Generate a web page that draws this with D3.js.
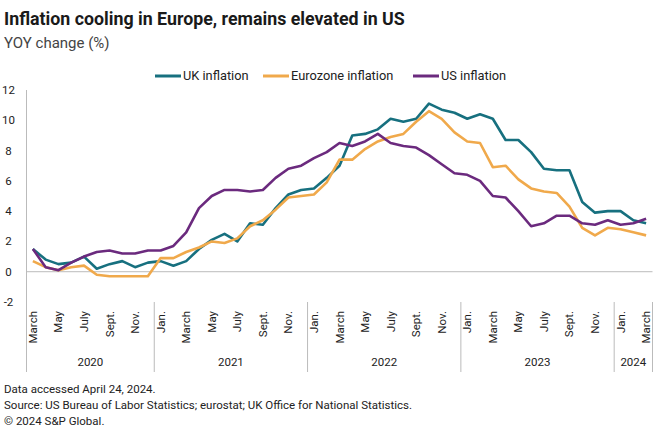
<!DOCTYPE html>
<html>
<head>
<meta charset="utf-8">
<script src="https://cdn.jsdelivr.net/npm/d3@7"></script>
<style>
  body { margin: 0; background: #fff; }
  svg { font-family: Roboto, "Liberation Sans", sans-serif; display: block; }
</style>
</head>
<body>
<div id="chart"></div>
<script>
// monthly YOY % change, March 2020 .. March 2024
const monthNames = ["Jan.", "Feb.", "March", "April", "May", "June", "July", "Aug.", "Sept.", "Oct.", "Nov.", "Dec."];
const years = [2020, 2021, 2022, 2023, 2024];

const ukInflation = [
  1.5, 0.8, 0.5, 0.6, 1.0, 0.2, 0.5, 0.7, 0.3, 0.6,
  0.7, 0.4, 0.7, 1.5, 2.1, 2.5, 2.0, 3.2, 3.1, 4.2, 5.1, 5.4,
  5.5, 6.2, 7.0, 9.0, 9.1, 9.4, 10.1, 9.9, 10.1, 11.1, 10.7, 10.5,
  10.1, 10.4, 10.1, 8.7, 8.7, 7.9, 6.8, 6.7, 6.7, 4.6, 3.9, 4.0,
  4.0, 3.4, 3.2
];
const euroInflation = [
  0.7, 0.3, 0.1, 0.3, 0.4, -0.2, -0.3, -0.3, -0.3, -0.3,
  0.9, 0.9, 1.3, 1.6, 2.0, 1.9, 2.2, 3.0, 3.4, 4.1, 4.9, 5.0,
  5.1, 5.9, 7.4, 7.4, 8.1, 8.6, 8.9, 9.1, 9.9, 10.6, 10.1, 9.2,
  8.6, 8.5, 6.9, 7.0, 6.1, 5.5, 5.3, 5.2, 4.3, 2.9, 2.4, 2.9,
  2.8, 2.6, 2.4
];
const usInflation = [
  1.5, 0.3, 0.1, 0.6, 1.0, 1.3, 1.4, 1.2, 1.2, 1.4,
  1.4, 1.7, 2.6, 4.2, 5.0, 5.4, 5.4, 5.3, 5.4, 6.2, 6.8, 7.0,
  7.5, 7.9, 8.5, 8.3, 8.6, 9.1, 8.5, 8.3, 8.2, 7.7, 7.1, 6.5,
  6.4, 6.0, 5.0, 4.9, 4.0, 3.0, 3.2, 3.7, 3.7, 3.2, 3.1, 3.4,
  3.1, 3.2, 3.5
];
const yTicks = [-2, 0, 2, 4, 6, 8, 10, 12];

const series = [
  { name: "UK inflation", values: ukInflation, color: "#17707f" },
  { name: "Eurozone inflation", values: euroInflation, color: "#f0a94b" },
  { name: "US inflation", values: usInflation, color: "#6b2a7e" }
];

// build month list: March 2020 .. March 2024
const months = [];
for (let i = 0; i < ukInflation.length; i++) {
  const m = (2 + i) % 12;
  const yr = 2020 + Math.floor((2 + i) / 12);
  months.push({ key: i, month: m, year: yr, label: monthNames[m] });
}

const width = 660, height = 440;
const plotLeft = 26.5, plotRight = 652.5, plotTop = 90, plotBottom = 302;

const svg = d3.select("#chart").append("svg")
  .attr("width", width)
  .attr("height", height);

const x = d3.scaleBand().domain(months.map(d => d.key)).range([plotLeft, plotRight]).padding(0);
const cx = k => x(k) + x.bandwidth() / 2;
const y = d3.scaleLinear().domain([-2, 12]).range([plotBottom, plotTop]);

// title
svg.append("text").attr("x", 4).attr("y", 25)
  .style("font-size", "17.8px").style("font-weight", "bold").attr("fill", "#1a1a1a")
  .text("Inflation cooling in Europe, remains elevated in US");
svg.append("text").attr("x", 4).attr("y", 48)
  .style("font-size", "15px").attr("fill", "#444")
  .text("YOY change (%)");

// legend
const legendX = [155, 263, 413];
series.forEach((s, i) => {
  const g = svg.append("g").attr("transform", `translate(${legendX[i]},76)`);
  g.append("line").attr("x1", 0).attr("x2", 26).attr("stroke", s.color).attr("stroke-width", 3);
  g.append("text").attr("x", 28).attr("dy", "0.35em")
    .style("font-size", "12.8px").attr("fill", "#222").text(s.name);
});

// y labels
svg.append("g").selectAll("text").data(yTicks).join("text")
  .attr("x", 8.5).attr("y", d => y(d)).attr("dy", "0.35em")
  .attr("text-anchor", "middle").style("font-size", "11.5px").attr("fill", "#222")
  .text(d => d);

// zero line
svg.append("line").attr("x1", plotLeft).attr("x2", plotRight)
  .attr("y1", y(0)).attr("y2", y(0)).attr("stroke", "#bbb").attr("stroke-width", 1);

// y axis line
svg.append("line").attr("x1", plotLeft).attr("x2", plotLeft)
  .attr("y1", plotTop).attr("y2", 372).attr("stroke", "#bbb").attr("stroke-width", 1);

// year separators
const yearStart = years.map(yr => months.findIndex(d => d.year === yr));
yearStart.slice(1).concat([months.length]).forEach(idx => {
  const xx = idx < months.length ? x(idx) : plotRight;
  svg.append("line").attr("x1", xx).attr("x2", xx)
    .attr("y1", plotBottom).attr("y2", 372).attr("stroke", "#bbb").attr("stroke-width", 1);
});

// month labels (every other month)
svg.append("g").selectAll("text")
  .data(months.filter(d => d.month % 2 === 0))
  .join("text")
  .attr("transform", d => `translate(${cx(d.key)},311) rotate(-90)`)
  .attr("text-anchor", "end").attr("dy", "0.35em")
  .style("font-size", "11.5px").attr("fill", "#222")
  .text(d => d.label);

// year labels
years.forEach((yr, i) => {
  const a = x(yearStart[i]);
  const b = i + 1 < years.length ? x(yearStart[i + 1]) : plotRight;
  svg.append("text").attr("x", (a + b) / 2).attr("y", 366)
    .attr("text-anchor", "middle").style("font-size", "11.5px").attr("fill", "#222")
    .text(yr);
});

// lines
const line = d3.line().x((d, i) => cx(i)).y(d => y(d));
series.forEach(s => {
  svg.append("path").datum(s.values)
    .attr("fill", "none").attr("stroke", s.color).attr("stroke-width", 2.6)
    .attr("stroke-linejoin", "round").attr("d", line);
});

// footer
const notes = [
  "Data accessed April 24, 2024.",
  "Source: US Bureau of Labor Statistics; eurostat; UK Office for National Statistics.",
  "\u00a9 2024 S&P Global."
];
svg.append("g").selectAll("text").data(notes).join("text")
  .attr("x", 4).attr("y", (d, i) => 393 + i * 16)
  .style("font-size", "11.5px").attr("fill", "#222")
  .text(d => d);
</script>
</body>
</html>
